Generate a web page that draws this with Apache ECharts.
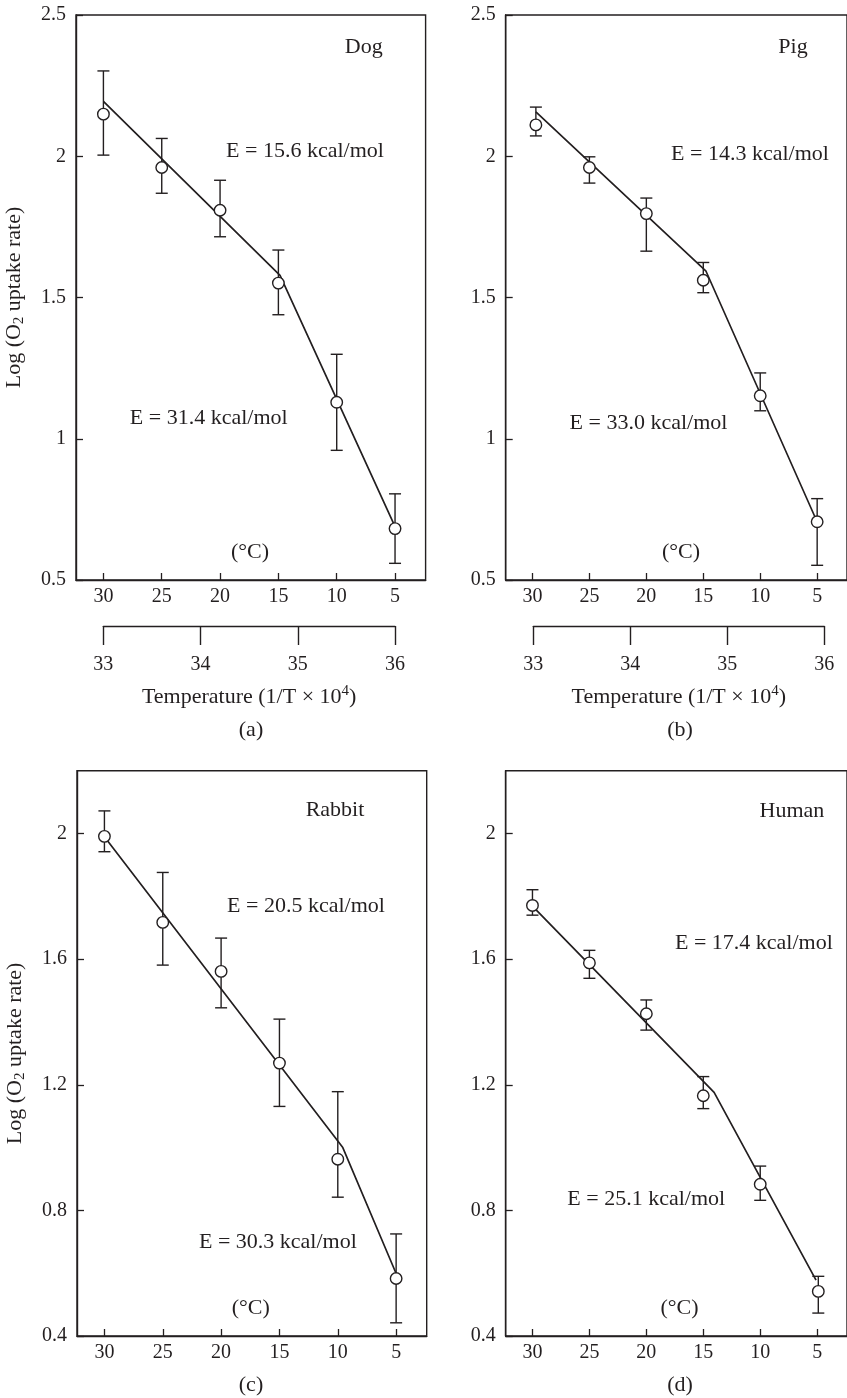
<!DOCTYPE html>
<html>
<head>
<meta charset="utf-8">
<script src="https://cdn.jsdelivr.net/npm/echarts@6/dist/echarts.min.js"></script>
<style>
html,body{margin:0;padding:0;background:#fff;}
#chart{width:847px;height:1398px;}
</style>
</head>
<body>
<div id="chart"></div>
<script>
// ---- data ----
const tickTempsC = [5, 10, 15, 20, 25, 30];
const invTempTicks = [33, 34, 35, 36];
const yTicksTop = [0.5, 1, 1.5, 2, 2.5];
const yTicksBottom = [0.4, 0.8, 1.2, 1.6, 2];

const dogTemps = [30, 25, 20, 15, 10, 5];
const dogMean = [2.149, 1.960, 1.809, 1.551, 1.129, 0.682];
const dogHi   = [2.302, 2.063, 1.915, 1.668, 1.299, 0.805];
const dogLo   = [2.004, 1.869, 1.715, 1.439, 0.959, 0.559];
const dogFit  = [[30, 2.194], [14.86, 1.578], [5, 0.689]];

const pigTemps = [29.7, 25, 20, 15, 10, 5];
const pigMean = [2.111, 1.960, 1.797, 1.561, 1.152, 0.706];
const pigHi   = [2.174, 1.998, 1.852, 1.624, 1.233, 0.788];
const pigLo   = [2.072, 1.905, 1.664, 1.517, 1.099, 0.552];
const pigFit  = [[29.7, 2.157], [14.76, 1.593], [5.2, 0.724]];

const rabbitTemps = [30, 25, 20, 15, 10, 5];
const rabbitMean = [1.991, 1.717, 1.561, 1.269, 0.963, 0.583];
const rabbitHi   = [2.072, 1.876, 1.667, 1.409, 1.178, 0.725];
const rabbitLo   = [1.942, 1.581, 1.445, 1.131, 0.842, 0.442];
const rabbitFit  = [[30, 1.99], [9.57, 1.0], [5, 0.599]];

const humanTemps = [30, 25, 20, 15, 10, 4.9];
const humanMean = [1.771, 1.588, 1.426, 1.165, 0.883, 0.542];
const humanHi   = [1.821, 1.628, 1.470, 1.226, 0.941, 0.590];
const humanLo   = [1.740, 1.539, 1.374, 1.124, 0.832, 0.473];
const humanFit  = [[29.85, 1.763], [14.05, 1.176], [5.1, 0.578]];

const animals = ['Dog', 'Pig', 'Rabbit', 'Human'];
const energyUpper = ['E = 15.6 kcal/mol', 'E = 14.3 kcal/mol', 'E = 20.5 kcal/mol', 'E = 17.4 kcal/mol'];
const energyLower = ['E = 31.4 kcal/mol', 'E = 33.0 kcal/mol', 'E = 30.3 kcal/mol', 'E = 25.1 kcal/mol'];
const panelLetters = ['(a)', '(b)', '(c)', '(d)'];

// ---- styling / layout ----
const INK = '#231f20';
const FONT = '"Liberation Serif", "Times New Roman", "DejaVu Serif", serif';
const TICK_FS = 20;
const TEXT_FS = 22;

const panels = [
  { left: 76,    top: 15,    width: 349.6, height: 565,   ymin: 0.5, ymax: 2.5, yticks: yTicksTop,
    temps: dogTemps, mean: dogMean, hi: dogHi, lo: dogLo, fit: dogFit, yName: true,
    sec: { left: 103.3, width: 291.7, top: 625 },
    ann: { animal: [382.7, 47], e1: [305, 151], e2: [208.7, 418.3], c: [250, 552.3], letter: [251, 730] } },
  { left: 505.7, top: 15,    width: 349.6, height: 565,   ymin: 0.5, ymax: 2.5, yticks: yTicksTop,
    temps: pigTemps, mean: pigMean, hi: pigHi, lo: pigLo, fit: pigFit, yName: false,
    sec: { left: 533.3, width: 291, top: 625 },
    ann: { animal: [807.7, 47], e1: [750, 154.3], e2: [648.5, 423.3], c: [681, 552.3], letter: [680, 730] } },
  { left: 77,    top: 770.7, width: 349.7, height: 565.3, ymin: 0.4, ymax: 2.2, yticks: yTicksBottom,
    temps: rabbitTemps, mean: rabbitMean, hi: rabbitHi, lo: rabbitLo, fit: rabbitFit, yName: true,
    sec: null,
    ann: { animal: [364.3, 810], e1: [306, 906.7], e2: [277.9, 1242.7], c: [250.8, 1308.3], letter: [251, 1385] } },
  { left: 505.7, top: 770.7, width: 349.6, height: 565.3, ymin: 0.4, ymax: 2.2, yticks: yTicksBottom,
    temps: humanTemps, mean: humanMean, hi: humanHi, lo: humanLo, fit: humanFit, yName: false,
    sec: null,
    ann: { animal: [824.3, 811.7], e1: [753.9, 943.3], e2: [646.2, 1199.3], c: [679.5, 1308.3], letter: [680, 1385] } }
];

const grids = [], xAxes = [], yAxes = [], series = [], graphics = [];

panels.forEach((p, i) => {
  grids.push({ left: p.left, top: p.top, width: p.width, height: p.height, show: true,
    borderColor: INK, borderWidth: 1.4, backgroundColor: 'transparent', containLabel: false });
  xAxes.push({
    gridIndex: i, type: 'value', inverse: true, min: 2.38, max: 32.35,
    axisLine: { show: true, onZero: false, lineStyle: { color: INK, width: 1.4 } },
    axisTick: { show: true, inside: true, length: 7, lineStyle: { color: INK, width: 1.3 }, customValues: tickTempsC },
    axisLabel: { show: true, margin: 7, color: INK, fontFamily: FONT, fontSize: TICK_FS, customValues: tickTempsC },
    splitLine: { show: false }
  });
  yAxes.push({
    gridIndex: i, type: 'value', min: p.ymin, max: p.ymax,
    axisLine: { show: true, onZero: false, lineStyle: { color: INK, width: 1.4 } },
    axisTick: { show: true, inside: true, length: 7, lineStyle: { color: INK, width: 1.3 }, customValues: p.yticks },
    axisLabel: { show: true, margin: 10, color: INK, fontFamily: FONT, fontSize: TICK_FS, customValues: p.yticks },
    splitLine: { show: false },
    name: p.yName ? '{a|Log (O}{s|2}{a| uptake rate)}' : '',
    nameLocation: 'middle', nameGap: 49,
    nameTextStyle: {
      color: INK, fontFamily: FONT, fontSize: TEXT_FS,
      rich: {
        a: { color: INK, fontFamily: FONT, fontSize: TEXT_FS, lineHeight: 26 },
        s: { color: INK, fontFamily: FONT, fontSize: 15, lineHeight: 15, verticalAlign: 'bottom' }
      }
    }
  });

  // fitted line
  series.push({
    type: 'line', xAxisIndex: i, yAxisIndex: i, data: p.fit, symbol: 'none',
    lineStyle: { color: INK, width: 1.7 }, z: 2, silent: true
  });
  // error bars
  series.push({
    type: 'custom', xAxisIndex: i, yAxisIndex: i, z: 3, silent: true,
    data: p.temps.map((t, k) => [t, p.lo[k], p.hi[k]]),
    renderItem: (params, api) => {
      const x = api.value(0);
      const a = api.coord([x, api.value(1)]);
      const b = api.coord([x, api.value(2)]);
      const hw = 6;
      const st = { stroke: INK, lineWidth: 1.4 };
      return { type: 'group', children: [
        { type: 'line', shape: { x1: a[0], y1: a[1], x2: b[0], y2: b[1] }, style: st },
        { type: 'line', shape: { x1: a[0] - hw, y1: a[1], x2: a[0] + hw, y2: a[1] }, style: st },
        { type: 'line', shape: { x1: b[0] - hw, y1: b[1], x2: b[0] + hw, y2: b[1] }, style: st }
      ] };
    }
  });
  // means
  series.push({
    type: 'scatter', xAxisIndex: i, yAxisIndex: i, z: 4, silent: true,
    data: p.temps.map((t, k) => [t, p.mean[k]]),
    symbol: 'circle', symbolSize: 11.5,
    itemStyle: { color: '#ffffff', borderColor: INK, borderWidth: 1.4, opacity: 1 }
  });

  // annotations
  const txt = (text, pos, align) => ({
    type: 'text', silent: true, z: 10,
    style: { text, x: pos[0], y: pos[1], fill: INK, font: `${TEXT_FS}px ${FONT}`,
      textAlign: align, textVerticalAlign: 'middle', align: align, verticalAlign: 'middle' }
  });
  graphics.push(txt(animals[i], p.ann.animal, 'right'));
  graphics.push(txt(energyUpper[i], p.ann.e1, 'center'));
  graphics.push(txt(energyLower[i], p.ann.e2, 'center'));
  graphics.push(txt('(\u00B0C)', p.ann.c, 'center'));
  graphics.push(txt(panelLetters[i], p.ann.letter, 'center'));
});

// secondary 1/T axes for panels (a) and (b)
panels.forEach((p, i) => {
  if (!p.sec) return;
  const gi = grids.length;
  grids.push({ left: p.sec.left, top: p.sec.top, width: p.sec.width, height: 1, show: false });
  xAxes.push({
    gridIndex: gi, type: 'value', position: 'bottom', min: 33, max: 36, interval: 1,
    axisLine: { show: true, onZero: false, lineStyle: { color: INK, width: 1.4 } },
    axisTick: { show: true, inside: false, length: 19, lineStyle: { color: INK, width: 1.4 } },
    axisLabel: { show: true, margin: 29, color: INK, fontFamily: FONT, fontSize: TICK_FS, customValues: invTempTicks },
    splitLine: { show: false },
    name: '{a|Temperature (1/T \u00D7 10}{p|4}{a|)}',
    nameLocation: 'middle', nameGap: 58,
    nameTextStyle: {
      color: INK, fontFamily: FONT, fontSize: TEXT_FS,
      rich: {
        a: { color: INK, fontFamily: FONT, fontSize: TEXT_FS, lineHeight: 26 },
        p: { color: INK, fontFamily: FONT, fontSize: 15, lineHeight: 15, verticalAlign: 'top' }
      }
    }
  });
  yAxes.push({ gridIndex: gi, type: 'value', min: 0, max: 1, show: false });
});

const chart = echarts.init(document.getElementById('chart'), null, { renderer: 'canvas' });
chart.setOption({
  animation: false,
  backgroundColor: '#ffffff',
  grid: grids,
  xAxis: xAxes,
  yAxis: yAxes,
  series: series,
  graphic: graphics
});
</script>
</body>
</html>
